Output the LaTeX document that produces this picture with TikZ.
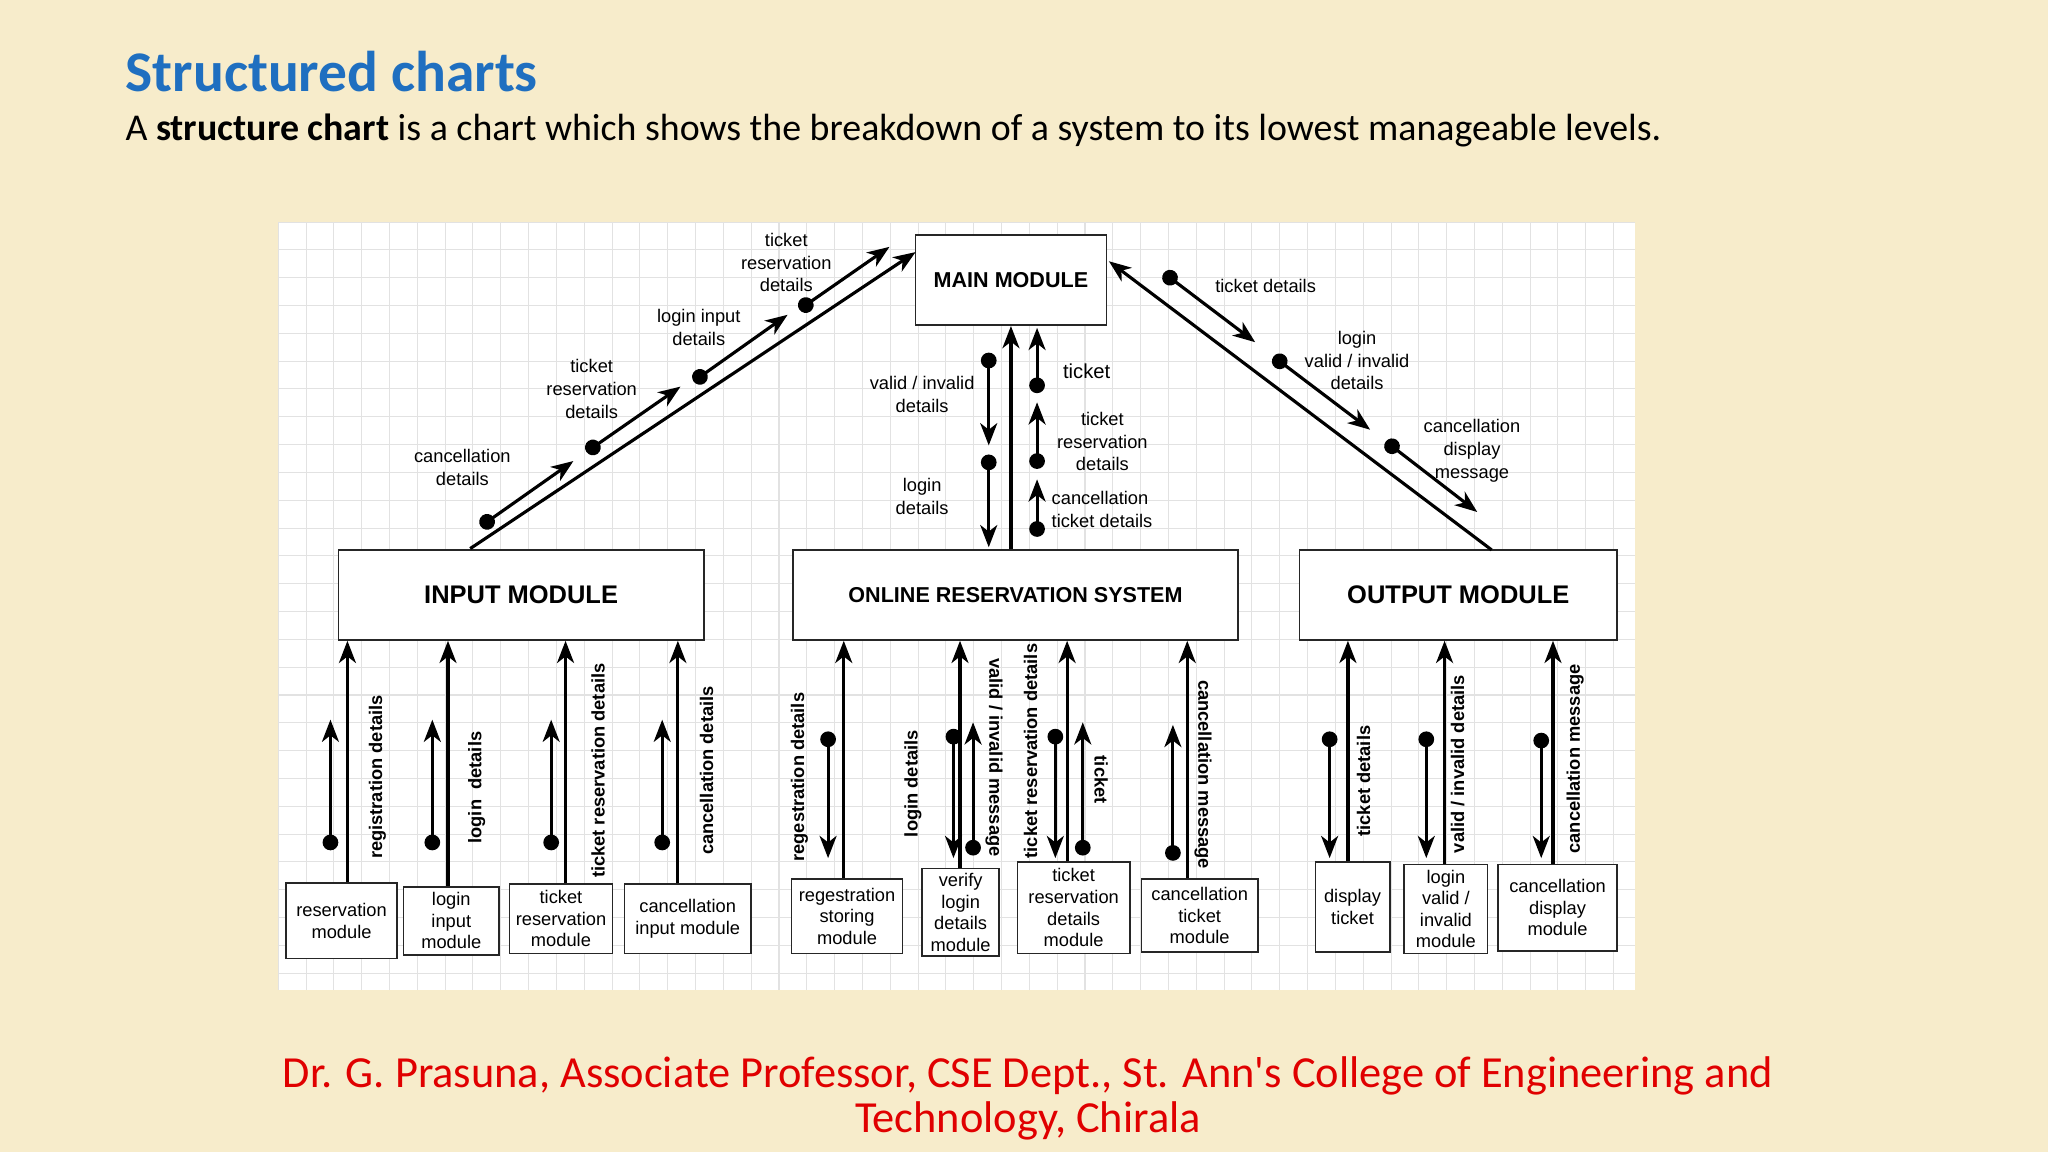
\documentclass[tikz,border=0pt]{standalone}
\usepackage{fontspec}
\setmainfont{Liberation Sans}
\newfontfamily\calfont{Carlito}
\usetikzlibrary{arrows.meta}
\definecolor{bgc}{HTML}{F7ECCB}
\definecolor{tblue}{HTML}{1F6FC0}
\definecolor{fred}{HTML}{E00000}
\definecolor{gridc}{HTML}{E2E2E2}
\begin{document}
\begin{tikzpicture}[x=1pt,y=-1pt,
  box/.style={draw=black!85,line width=1.2pt,fill=white,align=center,inner sep=1pt,font=\fontsize{14}{16.5}\selectfont},
  big/.style={draw=black!85,line width=1.2pt,fill=white,font=\bfseries\fontsize{19.5}{22}\selectfont},
  lbl/.style={align=center,font=\fontsize{14}{17.5}\selectfont,inner sep=0pt},
  vl/.style={font=\bfseries\fontsize{14}{16}\selectfont,inner sep=0pt},
  arr/.style={line width=2.4pt,-{Stealth[length=17pt,width=13pt,inset=5pt]}},
  darr/.style={line width=2.4pt,{Circle[length=12pt]}-{Stealth[length=17pt,width=13pt,inset=5pt]}}]
\useasboundingbox (0,0) rectangle (1568,882);
\fill[bgc] (0,0) rectangle (1568,882);
\node[anchor=west,text=tblue,font=\calfont\bfseries\fontsize{44}{48}\selectfont,inner sep=0pt] (title) at (96,55) {Structured charts};
\node[anchor=west,font=\calfont\fontsize{29}{33}\selectfont,inner sep=0pt] (sub) at (96,100) {A \textbf{structure chart} is a chart which shows the breakdown of a system to its lowest manageable levels.};
\node[align=center,text=fred,font=\calfont\fontsize{34}{35}\selectfont,inner sep=0pt] (foot) at (787,841) {Dr. G. Prasuna, Associate Professor, CSE Dept., St. Ann's College of Engineering and\\Technology, Chirala};
% panel
\fill[white] (213,170) rectangle (1252,758);
\begin{scope}
\clip (213,170) rectangle (1252,758);
\foreach \i in {0,...,49} {\draw[gridc,line width=0.8pt] (213+21.3*\i,170) -- (213+21.3*\i,758);}
\foreach \i in {0,...,28} {\draw[gridc,line width=0.8pt] (213,170+21.3*\i) -- (1252,170+21.3*\i);}
\end{scope}
% main nodes
\node[box,minimum width=146pt,minimum height=69pt,font=\bfseries\fontsize{16.5}{18}\selectfont] (mm) at (774,214.5) {MAIN MODULE};
\node[big,minimum width=280pt,minimum height=69pt] (im) at (399,455.5) {INPUT MODULE};
\node[big,minimum width=341pt,minimum height=69pt,font=\bfseries\fontsize{16.5}{20}\selectfont] (ors) at (777.5,455.5) {ONLINE RESERVATION SYSTEM};
\node[big,minimum width=243pt,minimum height=69pt] (om) at (1116.5,455.5) {OUTPUT MODULE};
% bottom boxes
\node[box,minimum width=85pt,minimum height=58pt] (b1) at (261.5,705) {reservation\\module};
\node[box,minimum width=73pt,minimum height=52pt] (b2) at (345.5,705) {login\\input\\module};
\node[box,minimum width=79pt,minimum height=53pt] (b3) at (429.5,703.5) {ticket\\reservation\\module};
\node[box,minimum width=97pt,minimum height=53pt] (b4) at (526.5,703.5) {cancellation\\input module};
\node[box,minimum width=85pt,minimum height=57pt] (b5) at (648.5,701.5) {regestration\\storing\\module};
\node[box,minimum width=59pt,minimum height=67pt] (b6) at (735.5,698.5) {verify\\login\\details\\module};
\node[box,minimum width=86pt,minimum height=70pt] (b7) at (822,695) {ticket\\reservation\\details\\module};
\node[box,minimum width=89pt,minimum height=56pt] (b8) at (918.5,701) {cancellation\\ticket\\module};
\node[box,minimum width=57pt,minimum height=69pt] (b9) at (1035.5,694.5) {display\\ticket};
\node[box,minimum width=64pt,minimum height=68pt] (b10) at (1107,696) {login\\valid /\\invalid\\module};
\node[box,minimum width=91pt,minimum height=66pt] (b11) at (1192.5,695) {cancellation\\display\\module};
% long arrows up
\foreach \b/\x/\t in {b1/266/im,b2/343/im,b3/433/im,b4/519/im,b5/646/ors,b6/735/ors,b7/817/ors,b8/909/ors,b9/1032/om,b10/1106/om,b11/1189/om}
  {\draw[arr] (\b.north -| \x,0) -- (\t.south -| \x,0);}
% short couples
\draw[darr] (253,651) -- (253,551);
\draw[darr] (331,651) -- (331,551);
\draw[darr] (422,651) -- (422,551);
\draw[darr] (507,651) -- (507,551);
\draw[darr] (634,560) -- (634,657);
\draw[darr] (730,558) -- (730,657);
\draw[darr] (745,655) -- (745,553);
\draw[darr] (808,558) -- (808,657);
\draw[darr] (829,655) -- (829,553);
\draw[darr] (898,659) -- (898,555);
\draw[darr] (1018,560) -- (1018,657);
\draw[darr] (1092,560) -- (1092,657);
\draw[darr] (1180,561) -- (1180,657);
% vertical labels
\node[vl,rotate=90] (l1) at (289,595) {registration details};
\node[vl,rotate=90] (l2) at (365,603) {login\ \ details};
\node[vl,rotate=90] (l3) at (458,590) {ticket reservation details};
\node[vl,rotate=90] (l4) at (541,590) {cancellation details};
\node[vl,rotate=90] (l5) at (612,595) {regestration details};
\node[vl,rotate=90] (l6) at (699,600) {login details};
\node[vl,rotate=-90] (l7) at (761,580) {valid / invalid message};
\node[vl,rotate=90] (l8) at (789,575) {ticket reservation details};
\node[vl,rotate=-90] (l9) at (843,597) {ticket};
\node[vl,rotate=-90] (l10) at (921,593) {cancellation message};
\node[vl,rotate=90] (l11) at (1044,598) {ticket details};
\node[vl,rotate=90] (l12) at (1116,585) {valid / invalid details};
\node[vl,rotate=90] (l13) at (1206,581) {cancellation message};
% diagonals
\coordinate (imt) at (360,420);
\coordinate (mmw) at (701,193);
\coordinate (mme) at (849,200);
\coordinate (omt) at (1142,421);
\draw[arr] (imt) -- (mmw);
\draw[arr] (omt) -- (mme);
\draw[darr] (368,403) -- (439,353);
\draw[darr] (449,346) -- (521,296);
\draw[darr] (531,292) -- (603,241);
\draw[darr] (612,237) -- (681,189);
\draw[darr] (891,209) -- (961,262);
\draw[darr] (975,273) -- (1049,329);
\draw[darr] (1061,338) -- (1131,392);
\node[lbl] at (354,358) {cancellation\\details};
\node[lbl] at (453,298) {ticket\\reservation\\details};
\node[lbl] at (535,251) {login input\\details};
\node[lbl] at (602,201) {ticket\\reservation\\details};
\node[lbl] at (969,219) {ticket details};
\node[lbl] at (1039,276) {login\\valid / invalid\\details};
\node[lbl] at (1127,345) {cancellation\\display\\message};
% main - ors
\draw[arr] (ors.north -| 774,0) -- (mm.south -| 774,0);
\draw[darr] (757,270) -- (757,341);
\draw[darr] (757,348) -- (757,419);
\draw[darr] (794,301) -- (794,251);
\draw[darr] (794,359) -- (794,308);
\draw[darr] (794,411) -- (794,367);
\node[lbl] at (706,302) {valid / invalid\\details};
\node[lbl] at (706,380) {login\\details};
\node[lbl,font=\fontsize{15.5}{17}\selectfont] at (832,284) {ticket};
\node[lbl] at (844,338) {ticket\\reservation\\details};
\node[lbl,align=left,anchor=west] at (805,390) {cancellation\\ticket details};
\end{tikzpicture}
\end{document}
